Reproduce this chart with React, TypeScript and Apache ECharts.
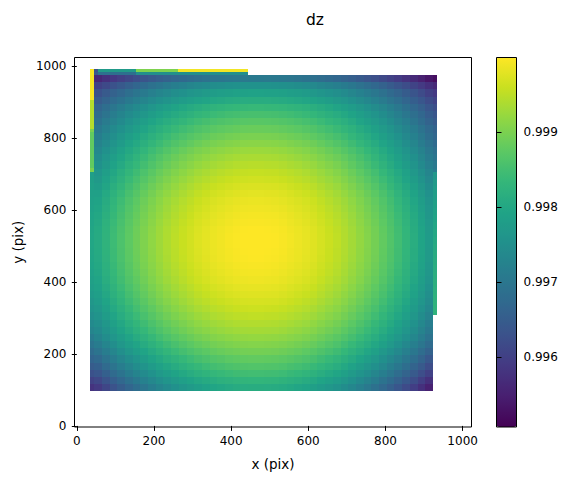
import React, { useEffect, useRef } from "react";
import * as echarts from "echarts";

const xTicks = [0, 200, 400, 600, 800, 1000];
const yTicks = [0, 200, 400, 600, 800, 1000];
const barTicks = [0.996, 0.997, 0.998, 0.999];
const viridis = ["#440154","#481f70","#443983","#3b528b","#31688e","#287c8e","#21918c","#20a486","#35b779","#5ec962","#90d743","#c8e020","#fde725"];

// drop below 1, in units of 1e-5; first row is the bottom of the picture
const dropRows = [
[410,389,369,350,332,316,300,285,271,258,247,236,227,218,211,204,200,195,191,189,188,188,189,190,194,198,203,209,216,225,234,243,255,267,281,295,310,327,344,363,382,403,425,448],
[386,366,346,328,310,294,279,264,251,238,227,217,208,199,192,186,181,177,173,171,170,170,171,172,176,180,185,190,197,206,215,224,235,247,261,274,289,306,322,340,359,379,401,423],
[362,343,323,306,288,273,258,244,230,218,208,198,189,180,174,167,163,159,155,153,152,152,153,154,157,162,166,172,178,187,196,204,215,227,240,253,268,284,300,318,336,356,377,398],
[343,323,304,287,270,255,240,226,213,201,191,181,172,164,157,151,147,142,139,137,136,136,137,138,141,146,150,155,162,170,179,187,198,210,223,236,249,265,282,299,317,336,356,378],
[324,305,286,269,252,238,223,209,197,185,175,165,157,148,142,136,132,127,124,122,121,121,122,123,126,130,135,140,146,155,163,171,182,193,206,219,232,248,264,281,298,317,337,358],
[305,286,268,251,235,220,206,193,180,169,159,149,141,133,127,120,116,112,109,107,106,106,107,108,111,115,119,125,131,139,147,155,166,177,189,202,215,231,246,263,280,299,318,339],
[288,270,252,235,219,205,191,178,166,155,145,135,127,119,113,107,103,99,96,94,93,93,94,95,98,102,106,111,117,125,133,141,152,163,175,187,200,215,230,247,264,282,301,321],
[273,255,237,221,205,191,177,164,152,141,131,122,114,106,100,94,90,86,83,81,80,80,81,82,85,89,93,98,104,112,120,128,138,149,161,173,186,201,216,232,249,267,286,306],
[261,243,225,209,193,179,165,152,140,129,119,110,102,94,88,82,78,74,71,69,68,68,69,70,73,77,81,86,92,100,108,116,126,137,149,161,174,189,204,220,237,255,274,294],
[251,233,215,199,183,169,155,142,130,119,109,100,92,84,78,72,68,64,61,59,58,58,59,60,63,67,71,76,82,90,98,106,116,127,139,151,164,179,194,210,227,245,264,284],
[241,223,205,189,173,159,145,132,120,109,99,90,82,74,68,62,58,54,51,49,48,48,49,50,53,57,61,66,72,80,88,96,106,117,129,141,154,169,184,200,217,235,254,274],
[232,214,196,180,164,150,136,123,111,100,90,81,73,65,59,53,49,45,42,40,39,39,40,41,44,48,52,57,63,71,79,87,97,108,120,132,145,160,175,191,208,226,245,265],
[224,206,188,172,156,142,128,115,103,92,82,73,65,57,51,45,41,37,34,32,31,31,32,33,36,40,44,49,55,63,71,79,89,100,112,124,137,152,167,183,200,218,237,257],
[217,199,181,165,149,135,121,108,96,85,75,66,58,50,44,38,34,30,27,25,24,24,25,26,29,33,37,42,48,56,64,72,82,93,105,117,130,145,160,176,193,211,230,250],
[211,193,175,159,143,129,115,102,90,79,69,60,52,44,38,32,28,24,21,19,18,18,19,20,23,27,31,36,42,50,58,66,76,87,99,111,124,139,154,170,187,205,224,244],
[205,187,169,153,137,123,109,96,84,73,63,54,46,38,32,26,22,18,15,13,12,12,13,14,17,21,25,30,36,44,52,60,70,81,93,105,118,133,148,164,181,199,218,238],
[201,183,165,149,133,119,105,92,80,69,59,50,42,34,28,22,18,14,11,9,8,8,9,10,13,17,21,26,32,40,48,56,66,77,89,101,114,129,144,160,177,195,214,234],
[198,180,162,146,130,116,102,89,77,66,56,47,39,31,25,19,15,11,8,6,5,5,6,7,10,14,18,23,29,37,45,53,63,74,86,98,111,126,141,157,174,192,211,231],
[195,177,159,143,127,113,99,86,74,63,53,44,36,28,22,16,12,8,5,3,2,2,3,4,7,11,15,20,26,34,42,50,60,71,83,95,108,123,138,154,171,189,208,228],
[194,176,158,142,126,112,98,85,73,62,52,43,35,27,21,15,11,7,4,2,1,1,2,3,6,10,14,19,25,33,41,49,59,70,82,94,107,122,137,153,170,188,207,227],
[193,175,157,141,125,111,97,84,72,61,51,42,34,26,20,14,10,6,3,1,0,0,1,2,5,9,13,18,24,32,40,48,58,69,81,93,106,121,136,152,169,187,206,226],
[193,175,157,141,125,111,97,84,72,61,51,42,34,26,20,14,10,6,3,1,0,0,1,2,5,9,13,18,24,32,40,48,58,69,81,93,106,121,136,152,169,187,206,226],
[194,176,158,142,126,112,98,85,73,62,52,43,35,27,21,15,11,7,4,2,1,1,2,3,6,10,14,19,25,33,41,49,59,70,82,94,107,122,137,153,170,188,207,227],
[197,179,161,145,129,115,101,88,76,65,55,46,38,30,24,18,14,10,7,5,4,4,5,6,9,13,17,22,28,36,44,52,62,73,85,97,110,125,140,156,173,191,210,230],
[200,182,164,148,132,118,104,91,79,68,58,49,41,33,27,21,17,13,10,8,7,7,8,9,12,16,20,25,31,39,47,55,65,76,88,100,113,128,143,159,176,194,213,233],
[204,186,168,152,136,122,108,95,83,72,62,53,45,37,31,25,21,17,14,12,11,11,12,13,16,20,24,29,35,43,51,59,69,80,92,104,117,132,147,163,180,198,217,237],
[208,190,172,156,140,126,112,99,87,76,66,57,49,41,35,29,25,21,18,16,15,15,16,17,20,24,28,33,39,47,55,63,73,84,96,108,121,136,151,167,184,202,221,241],
[214,196,178,162,146,132,118,105,93,82,72,63,55,47,41,35,31,27,24,22,21,21,22,23,26,30,34,39,45,53,61,69,79,90,102,114,127,142,157,173,190,208,227,247],
[221,203,185,169,153,139,125,112,100,89,79,70,62,54,48,42,38,34,31,29,28,28,29,30,33,37,41,46,52,60,68,76,86,97,109,121,134,149,164,180,197,215,234,254],
[229,211,193,177,161,147,133,120,108,97,87,78,70,62,56,50,46,42,39,37,36,36,37,38,41,45,49,54,60,68,76,84,94,105,117,129,142,157,172,188,205,223,242,262],
[237,219,201,185,169,155,141,128,116,105,95,86,78,70,64,58,54,50,47,45,44,44,45,46,49,53,57,62,68,76,84,92,102,113,125,137,150,165,180,196,213,231,250,270],
[247,229,211,195,179,165,151,138,126,115,105,96,88,80,74,68,64,60,57,55,54,54,55,56,59,63,67,72,78,86,94,102,112,123,135,147,160,175,190,206,223,241,260,280],
[255,237,219,204,188,174,160,147,135,124,114,105,98,90,84,78,74,70,67,65,64,64,65,66,69,73,77,82,88,96,104,112,121,132,144,156,169,184,199,214,231,249,268,288],
[264,247,229,213,198,184,170,157,146,135,125,116,108,100,95,89,85,81,78,76,75,75,76,77,80,84,88,93,99,106,114,122,132,143,154,166,179,194,208,224,241,258,277,296],
[275,258,240,225,209,196,182,169,158,147,137,129,121,113,107,102,98,94,91,89,88,88,89,90,93,97,101,105,111,119,127,135,144,155,167,178,191,205,220,235,252,269,288,307],
[284,267,250,235,220,206,193,181,169,159,149,141,133,126,120,114,111,107,104,102,101,101,102,103,106,110,113,118,124,131,139,147,156,167,178,189,202,216,230,245,262,279,297,316],
[294,278,261,246,231,218,205,193,182,172,162,154,147,139,134,128,124,121,118,116,115,115,116,117,120,123,127,132,137,145,152,160,169,179,190,201,214,228,241,256,272,289,307,325],
[308,291,274,260,245,232,219,207,196,186,177,169,161,154,148,143,139,136,133,131,130,130,131,132,135,138,142,147,152,159,167,174,183,193,205,216,228,241,255,270,285,302,320,338],
[320,304,287,273,259,246,233,222,211,201,192,184,177,169,164,159,155,151,149,147,146,146,147,148,151,154,158,162,168,175,182,189,198,208,219,230,241,255,268,283,298,314,331,349],
[333,317,301,287,273,261,248,237,226,217,208,200,193,186,181,175,172,168,166,164,163,163,164,165,167,171,174,179,184,191,198,205,214,224,234,245,256,269,283,297,312,328,344,362],
[352,337,321,308,294,282,270,259,249,240,231,224,217,210,205,200,197,193,191,189,188,188,189,190,192,196,199,203,208,215,222,229,237,247,257,267,278,291,304,317,332,347,363,380],
[371,356,341,328,315,303,292,281,271,262,253,246,239,233,228,223,219,216,213,212,211,211,212,213,215,218,222,226,231,238,244,251,259,268,278,288,299,311,324,337,351,366,382,399],
[398,384,370,357,344,333,322,311,302,293,285,278,271,265,260,255,252,249,246,245,244,244,245,246,248,251,254,258,263,270,276,282,290,299,309,318,329,341,353,366,379,394,409,425],
[439,425,412,400,388,377,367,357,348,340,332,326,320,314,309,305,302,299,296,295,294,294,295,296,298,301,304,308,312,318,324,330,338,346,355,364,374,385,396,408,421,434,449,464],
];
const leftColumn = [420,396,372,352,334,318,302,288,270,260,250,241,233,226,220,214,210,207,204,203,202,202,203,205,207,210,212,214,215,216,217];
const rightUpper = [285,295,303,311,322,330,339,352,363,375,393,411,437,475];
const rightLower = [175,176,178,180,182,184,186,188,190,193,196,199,202,206,210,214,218,222,227,232];
const stripCells = [
  [35,45,906,994,0.99995],[35,45,825,906,0.99943],[35,45,817,825,0.9990],[35,45,717,817,0.99879],[35,45,706,717,0.9990],
  [45,55,985,994,0.9963],[55,154,985,994,0.99772],[154,263,985,994,0.99902],[263,444,985,994,0.9999],
  [45,55,975,985,0.99643],[55,154,975,985,0.99687],[154,444,975,985,0.9975],
];

function App() {
  const ref = useRef<HTMLDivElement>(null);
  useEffect(() => {
    const chart = echarts.init(ref.current!, null, { renderer: "svg" });
    const cols = dropRows[0].length, rows = dropRows.length;
    const w = (923 - 45) / cols, h = (976 - 96) / rows;
    const cells: number[][] = [];
    const val = (d: number) => 1 - d * 1e-5;
    dropRows.forEach((r, j) => r.forEach((d, i) => cells.push([45 + i * w, 45 + (i + 1) * w, 96 + j * h, 96 + (j + 1) * h, val(d)])));
    leftColumn.forEach((d, j) => cells.push([35, 45, 96 + j * h, 96 + (j + 1) * h, val(d)]));
    rightUpper.forEach((d, j) => cells.push([923, 933, 696 + j * h, 696 + (j + 1) * h, val(d)]));
    rightLower.forEach((d, j) => cells.push([923, 933, 308 + j * 19.9, 308 + (j + 1) * 19.9, val(d)]));
    stripCells.forEach((c) => cells.push(c));
    const font = { fontFamily: "DejaVu Sans", fontSize: 12, color: "#000" };
    const nameFont = { fontFamily: "DejaVu Sans", fontSize: 13.5, color: "#000" };
    chart.setOption({
      animation: false,
      title: { text: "dz", left: 301, top: 7, textStyle: { fontFamily: "DejaVu Sans", fontSize: 15.5, fontWeight: "normal", color: "#000" } },
      grid: [
        { left: 74.5, top: 57.5, width: 397, height: 369.5, show: true, borderColor: "#000", borderWidth: 1, backgroundColor: "transparent" },
        { left: 496.5, top: 57.5, width: 20, height: 369.5, show: false },
      ],
      xAxis: [
        { gridIndex: 0, type: "value", min: -6, max: 1023, name: "x (pix)", nameLocation: "middle", nameGap: 30, nameTextStyle: nameFont,
          splitLine: { show: false }, axisLine: { show: false },
          axisTick: { show: true, length: 5, customValues: xTicks, lineStyle: { color: "#000" } },
          axisLabel: { ...font, margin: 8, customValues: xTicks, formatter: (v: number) => String(Math.round(v)) } },
        { gridIndex: 1, type: "value", min: 0, max: 1, show: false },
      ],
      yAxis: [
        { gridIndex: 0, type: "value", min: -3, max: 1025, name: "y (pix)", nameLocation: "middle", nameGap: 44, nameRotate: 90, nameTextStyle: nameFont,
          splitLine: { show: false }, axisLine: { show: false },
          axisTick: { show: true, length: 5, customValues: yTicks, lineStyle: { color: "#000" } },
          axisLabel: { ...font, margin: 8, customValues: yTicks, formatter: (v: number) => String(Math.round(v)) } },
        { gridIndex: 1, type: "value", min: 0.99507, max: 0.99999, position: "right", z: 20,
          splitLine: { show: false }, axisLine: { show: false },
          axisTick: { show: true, length: 5, customValues: barTicks, lineStyle: { color: "#000" } },
          axisLabel: { ...font, margin: 7, customValues: barTicks, formatter: (v: number) => v.toFixed(3) } },
      ],
      visualMap: {
        type: "continuous", seriesIndex: 0, dimension: 4, min: 0.99507, max: 0.99999, left: 496.5, top: 57.5,
        itemWidth: 20, itemHeight: 369.5, text: ["", ""], calculable: false, inRange: { color: viridis }, padding: 0, textGap: 0, itemGap: 0,
      },
      graphic: [{ type: "rect", z: 100, shape: { x: 496.5, y: 57.5, width: 20, height: 369.5 }, style: { fill: "none", stroke: "#000", lineWidth: 1 } }],
      series: [{
        type: "custom", coordinateSystem: "cartesian2d", xAxisIndex: 0, yAxisIndex: 0, progressive: 0, data: cells,
        encode: { x: [0, 1], y: [2, 3] },
        renderItem: (_: any, api: any) => {
          const a = api.coord([api.value(0), api.value(2)]);
          const b = api.coord([api.value(1), api.value(3)]);
          const x0 = Math.round(a[0]), x1 = Math.round(b[0]), y0 = Math.round(b[1]), y1 = Math.round(a[1]);
          return { type: "rect", shape: { x: x0, y: y0, width: x1 - x0, height: y1 - y0 }, style: { fill: api.visual("color"), stroke: null } };
        },
      }],
    });
    return () => chart.dispose();
  }, []);
  return <div ref={ref} style={{ position: "absolute", left: 0, top: 0, width: 573, height: 480 }} />;
}
export default App;
